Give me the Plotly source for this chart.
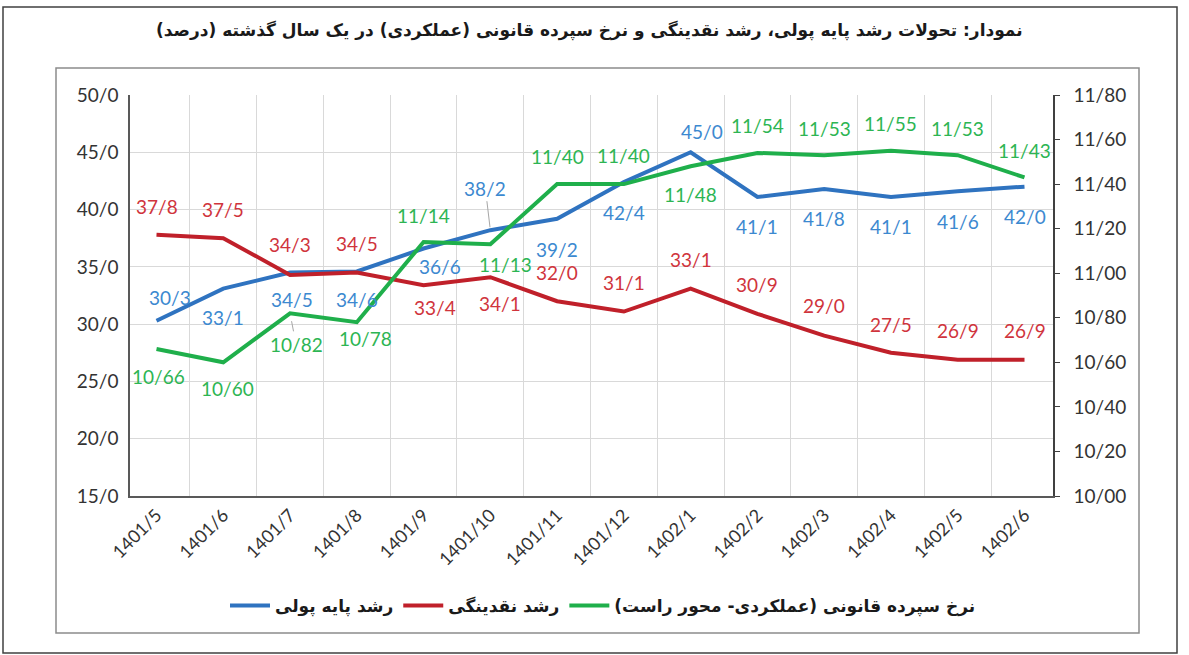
import plotly.graph_objects as go

# ---------------- data ----------------
categories = ["1401/5", "1401/6", "1401/7", "1401/8", "1401/9", "1401/10", "1401/11",
              "1401/12", "1402/1", "1402/2", "1402/3", "1402/4", "1402/5", "1402/6"]
base_money = [30.3, 33.1, 34.5, 34.6, 36.6, 38.2, 39.2, 42.4, 45.0, 41.1, 41.8, 41.1, 41.6, 42.0]
liquidity = [37.8, 37.5, 34.3, 34.5, 33.4, 34.1, 32.0, 31.1, 33.1, 30.9, 29.0, 27.5, 26.9, 26.9]
reserve_rate = [10.66, 10.60, 10.82, 10.78, 11.14, 11.13, 11.40, 11.40, 11.48, 11.54, 11.53, 11.55, 11.53, 11.43]

left_tickvals = [15, 20, 25, 30, 35, 40, 45, 50]
left_ticktext = ["15/0", "20/0", "25/0", "30/0", "35/0", "40/0", "45/0", "50/0"]
right_tickvals = [10.0, 10.2, 10.4, 10.6, 10.8, 11.0, 11.2, 11.4, 11.6, 11.8]
right_ticktext = ["10/00", "10/20", "10/40", "10/60", "10/80", "11/00", "11/20", "11/40", "11/60", "11/80"]

title_text = "نمودار: تحولات رشد پایه پولی، رشد نقدینگی و نرخ سپرده قانونی (عملکردی) در یک سال گذشته (درصد)"
name_base = "رشد پایه پولی"
name_liq = "رشد نقدینگی"
name_res = "نرخ سپرده قانونی (عملکردی- محور راست)"

# ---------------- styles ----------------
BLUE, BLUE_T = "#2F73C0", "#3C89D0"
RED, RED_T = "#C0202A", "#D0343C"
GREEN, GREEN_T = "#1FAF4B", "#2DB553"
FONT = "Lato, DejaVu Sans, sans-serif"
PFONT = "DejaVu Sans, sans-serif"

# label offsets (dx, dy) in pixels, screen y down; leader flag
blue_off = [(13, -23), (0, 29), (2, 27), (0, 28), (16, 18), (-5, -42), (0, 31), (0, 30),
            (11, -21), (0, 30), (0, 30), (0, 30), (0, 30), (0, 30)]
red_off = [(0, -28), (0, -29), (0, -30), (0, -29), (11, 22), (10, 26), (0, -29), (0, -29),
           (0, -29), (0, -29), (0, -30), (0, -28), (0, -29), (0, -29)]
green_off = [(2, 28), (4, 26), (6, 31), (9, 16), (0, -27), (15, 20), (0, -28), (0, -29),
             (0, 28), (0, -27), (0, -27), (0, -27), (0, -27), (0, -27)]
leaders = {("b", 5): 3, ("g", 2): 8}

# plot area in pixels
W, H = 1189, 655
PX0, PX1, PY0, PY1 = 130, 1053, 95, 496


def px(x):
    return (x - PX0) / (PX1 - PX0)


def py(y):
    return (PY1 - y) / (PY1 - PY0)


fig = go.Figure()
fig.add_trace(go.Scatter(x=categories, y=base_money, name=name_base, mode="lines",
                         line=dict(color=BLUE, width=4)))
fig.add_trace(go.Scatter(x=categories, y=liquidity, name=name_liq, mode="lines",
                         line=dict(color=RED, width=4)))
fig.add_trace(go.Scatter(x=categories, y=reserve_rate, name=name_res, mode="lines",
                         line=dict(color=GREEN, width=4), yaxis="y2"))

annotations = []


def add_labels(key, values, offs, color, yref, fmt):
    for i, (v, (dx, dy)) in enumerate(zip(values, offs)):
        txt = fmt.format(v).replace(".", "/")
        if (key, i) in leaders:
            annotations.append(dict(x=categories[i], y=v, xref="x", yref=yref, text=txt,
                                    showarrow=True, arrowhead=0, arrowwidth=1,
                                    arrowcolor="#A6A6A6", ax=dx, ay=dy,
                                    standoff=leaders[(key, i)],
                                    font=dict(family=FONT, size=19, color=color)))
        else:
            annotations.append(dict(x=categories[i], y=v, xref="x", yref=yref, text=txt,
                                    showarrow=False, xshift=dx, yshift=-dy,
                                    font=dict(family=FONT, size=19, color=color)))


add_labels("b", base_money, blue_off, BLUE_T, "y", "{:.1f}")
add_labels("r", liquidity, red_off, RED_T, "y", "{:.1f}")
add_labels("g", reserve_rate, green_off, GREEN_T, "y2", "{:.2f}")

annotations.append(dict(x=px(589), y=py(31), xref="paper", yref="paper", text="<b>" + title_text + "</b>",
                        showarrow=False, font=dict(family=PFONT, size=17, color="#1A1A1A"),
                        xanchor="center", yanchor="middle"))

shapes = [
    dict(type="rect", xref="paper", yref="paper", x0=px(3), x1=px(1177), y0=py(653), y1=py(7),
         line=dict(color="#404040", width=1.5)),
    dict(type="rect", xref="paper", yref="paper", x0=px(56), x1=px(1139), y0=py(633), y1=py(68),
         line=dict(color="#8C8C8C", width=1.5)),
]

fig.update_layout(
    width=W, height=H,
    margin=dict(l=PX0, r=W - PX1, t=PY0, b=H - PY1),
    paper_bgcolor="white", plot_bgcolor="white",
    showlegend=True,
    legend=dict(orientation="h", x=px(603), xanchor="center", y=py(606), yanchor="middle",
                font=dict(family=PFONT, size=17, color="#1A1A1A", weight="bold"), itemwidth=40,
                traceorder="normal"),
    xaxis=dict(type="category", tickson="boundaries", showgrid=True, gridcolor="#D9D9D9",
               gridwidth=1, showline=True, linecolor="#595959", linewidth=1.5, ticks="",
               tickangle=-45, tickfont=dict(family=FONT, size=18, color="#333333")),
    yaxis=dict(range=[15, 50], tickvals=left_tickvals, ticktext=left_ticktext, showgrid=True,
               gridcolor="#D9D9D9", gridwidth=1, showline=True, linecolor="#595959", linewidth=1.5,
               ticks="", zeroline=False, tickfont=dict(family=FONT, size=19, color="#333333"),
               ticklabelstandoff=6),
    yaxis2=dict(range=[10, 11.8], tickvals=right_tickvals, ticktext=right_ticktext, overlaying="y",
                side="right", showgrid=False, showline=True, linecolor="#404040", linewidth=1.5,
                ticks="outside", ticklen=5, tickcolor="#404040", zeroline=False,
                tickfont=dict(family=FONT, size=19, color="#333333"), ticklabelstandoff=10),
    annotations=annotations,
    shapes=shapes,
)

fig.write_html("out.html", config={"displayModeBar": False},
               post_script="document.body.style.margin='0';document.body.style.overflow='hidden';")
